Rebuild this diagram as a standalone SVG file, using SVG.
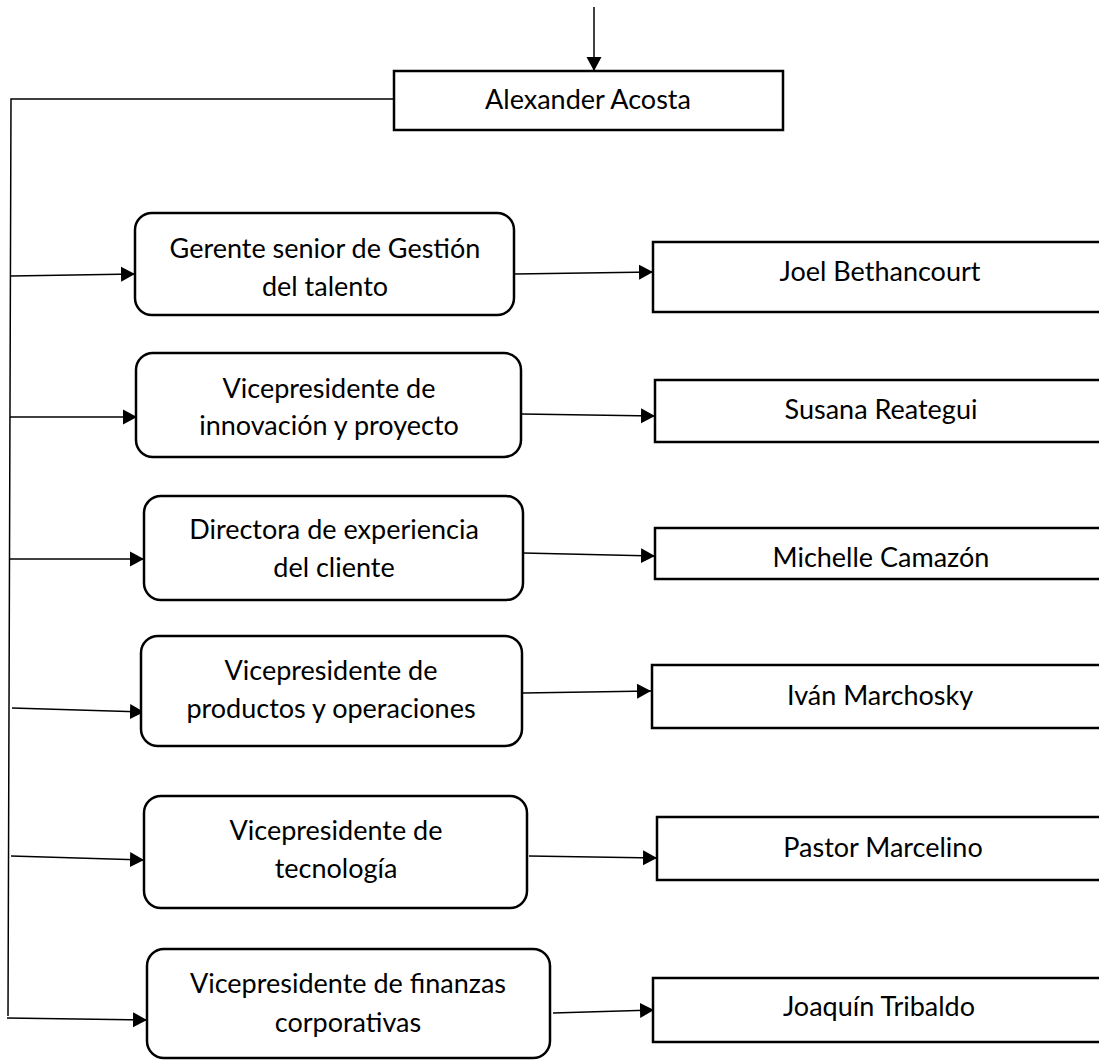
<svg xmlns="http://www.w3.org/2000/svg" width="1099" height="1061" viewBox="0 0 1099 1061">
<defs>
<style>
.box{fill:#fff;stroke:#000;stroke-width:2.5}
.t{font-family:Lato,"Liberation Sans",sans-serif;font-size:27px;fill:#000;text-anchor:middle}
.c{fill:none;stroke:#000;stroke-width:1.5}
.ca{fill:none;stroke:#000;stroke-width:1.5;marker-end:url(#ah)}
</style>
<marker id="ah" markerUnits="userSpaceOnUse" markerWidth="15" markerHeight="16" refX="14" refY="7.5" orient="auto" viewBox="0 0 15 15">
<path d="M0,0 L14,7.5 L0,15 z" fill="#000"/>
</marker>
</defs>
<rect width="1099" height="1061" fill="#fff"/>
<g id="connectors">
<line class="ca" x1="594" y1="7" x2="594" y2="71"/>
<polyline class="c" points="394,99 11,99 8,1016"/>
<line class="ca" x1="11" y1="276" x2="135" y2="274"/>
<line class="ca" x1="10" y1="417" x2="137" y2="417"/>
<line class="ca" x1="9" y1="559" x2="144" y2="559"/>
<line class="ca" x1="12" y1="708" x2="144" y2="712"/>
<line class="ca" x1="11" y1="856" x2="144" y2="860"/>
<line class="ca" x1="7" y1="1018" x2="147" y2="1020"/>
<line class="ca" x1="515" y1="274" x2="653" y2="272"/>
<line class="ca" x1="522" y1="414" x2="655" y2="416"/>
<line class="ca" x1="523" y1="553" x2="655" y2="556"/>
<line class="ca" x1="523" y1="693" x2="651" y2="691"/>
<line class="ca" x1="529" y1="856" x2="657" y2="858"/>
<line class="ca" x1="553" y1="1013" x2="654" y2="1010"/>
</g>
<g id="n-alexander">
<rect class="box" x="394" y="71" width="389" height="59"/>
<text class="t" x="588" y="109">Alexander Acosta</text>
</g>
<g id="n-gerente">
<rect class="box" x="135" y="213" width="379" height="102" rx="17"/>
<text class="t" x="325" y="258">Gerente senior de Gestión</text>
<text class="t" x="325" y="296">del talento</text>
</g>
<g id="n-innovacion">
<rect class="box" x="136" y="353" width="385" height="104" rx="17"/>
<text class="t" x="329" y="398">Vicepresidente de</text>
<text class="t" x="329" y="435">innovación y proyecto</text>
</g>
<g id="n-experiencia">
<rect class="box" x="144" y="496" width="379" height="104" rx="17"/>
<text class="t" x="334" y="539">Directora de experiencia</text>
<text class="t" x="334" y="577">del cliente</text>
</g>
<g id="n-productos">
<rect class="box" x="141" y="636" width="381" height="110" rx="17"/>
<text class="t" x="331" y="680">Vicepresidente de</text>
<text class="t" x="331" y="718">productos y operaciones</text>
</g>
<g id="n-tecnologia">
<rect class="box" x="144" y="796" width="383" height="112" rx="17"/>
<text class="t" x="336" y="840">Vicepresidente de</text>
<text class="t" x="336" y="878">tecnología</text>
</g>
<g id="n-finanzas">
<rect class="box" x="147" y="949" width="403" height="109" rx="17"/>
<text class="t" x="348" y="993">Vicepresidente de finanzas</text>
<text class="t" x="348" y="1032">corporativas</text>
</g>
<g id="n-joel">
<rect class="box" x="653" y="242" width="460" height="70"/>
<text class="t" x="880" y="281">Joel Bethancourt</text>
</g>
<g id="n-susana">
<rect class="box" x="655" y="380" width="460" height="62"/>
<text class="t" x="881" y="419">Susana Reategui</text>
</g>
<g id="n-michelle">
<rect class="box" x="655" y="528" width="460" height="51"/>
<text class="t" x="881" y="567">Michelle Camazón</text>
</g>
<g id="n-ivan">
<rect class="box" x="652" y="665" width="460" height="63"/>
<text class="t" x="880" y="705">Iván Marchosky</text>
</g>
<g id="n-pastor">
<rect class="box" x="657" y="817" width="460" height="63"/>
<text class="t" x="883" y="857">Pastor Marcelino</text>
</g>
<g id="n-joaquin">
<rect class="box" x="653" y="978" width="460" height="64"/>
<text class="t" x="879" y="1016">Joaquín Tribaldo</text>
</g>
</svg>
